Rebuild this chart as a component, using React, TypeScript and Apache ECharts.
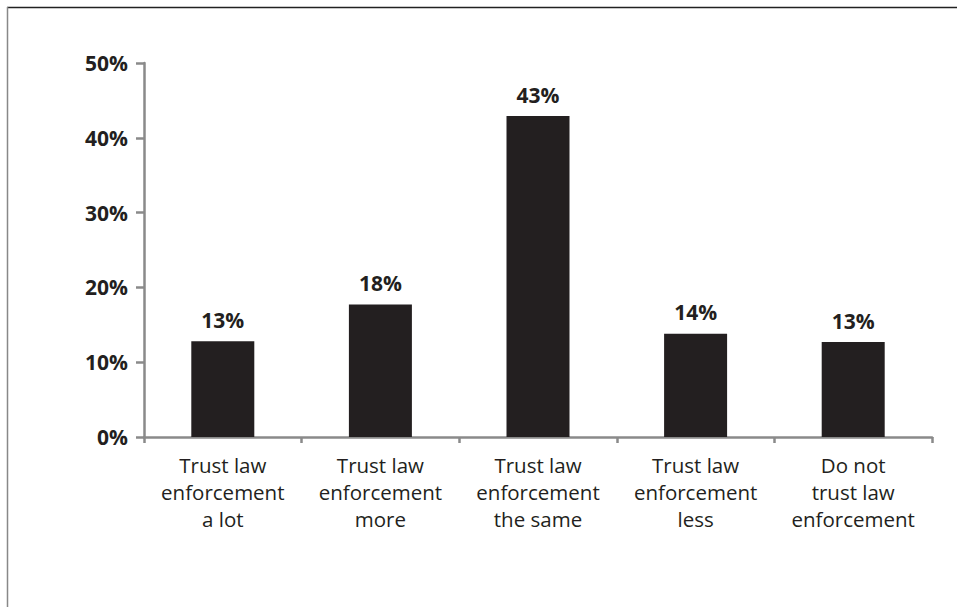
import React, { useEffect, useRef } from "react";
import * as echarts from "echarts";

const categories = [
  "Trust law\nenforcement\na lot",
  "Trust law\nenforcement\nmore",
  "Trust law\nenforcement\nthe same",
  "Trust law\nenforcement\nless",
  "Do not\ntrust law\nenforcement",
];
const values = [12.8, 17.7, 42.9, 13.8, 12.7];
const valueLabels = ["13%", "18%", "43%", "14%", "13%"];
const yTicks = [0, 10, 20, 30, 40, 50];

const FONT = "'Open Sans', 'Noto Sans', sans-serif";
const TEXT = "#231f20";
const AXIS = "#8a8a8a";

export default function App() {
  const ref = useRef<HTMLDivElement>(null);
  useEffect(() => {
    document.body.style.margin = "0";
    const chart = echarts.init(ref.current!, null, { renderer: "svg" });
    chart.setOption({
      animation: false,
      backgroundColor: "#ffffff",
      grid: { left: 144, right: 25, top: 63, bottom: 170, containLabel: false },
      graphic: [
        { type: "line", shape: { x1: 7, y1: 7.5, x2: 957, y2: 7.5 }, style: { stroke: "#222", lineWidth: 1.5 } },
        { type: "line", shape: { x1: 7.5, y1: 7, x2: 7.5, y2: 607 }, style: { stroke: "#888", lineWidth: 1.5 } },
      ],
      xAxis: {
        type: "category",
        data: categories,
        axisLine: { lineStyle: { color: AXIS, width: 2.5 } },
        axisTick: { show: true, length: 6, lineStyle: { color: AXIS, width: 2.5 } },
        axisLabel: {
          interval: 0,
          margin: 14,
          color: TEXT,
          fontFamily: FONT,
          fontSize: 20.5,
          lineHeight: 27,
        },
      },
      yAxis: {
        type: "value",
        min: yTicks[0],
        max: yTicks[yTicks.length - 1],
        interval: 10,
        splitLine: { show: false },
        axisLine: { show: true, lineStyle: { color: AXIS, width: 2.5 } },
        axisTick: { show: true, inside: false, length: 8, lineStyle: { color: AXIS, width: 2.5 } },
        axisLabel: {
          margin: 16,
          color: TEXT,
          fontFamily: FONT,
          fontSize: 21,
          fontWeight: "bold",
          formatter: (v: number) => v + "%",
        },
      },
      series: [
        {
          type: "bar",
          data: values,
          barWidth: 63,
          itemStyle: { color: TEXT },
          label: {
            show: true,
            position: "top",
            distance: 11,
            color: TEXT,
            fontFamily: FONT,
            fontSize: 21,
            fontWeight: "bold",
            formatter: (p: any) => valueLabels[p.dataIndex],
          },
        },
      ],
    });
    return () => chart.dispose();
  }, []);
  return <div ref={ref} style={{ width: 957, height: 607 }} />;
}
